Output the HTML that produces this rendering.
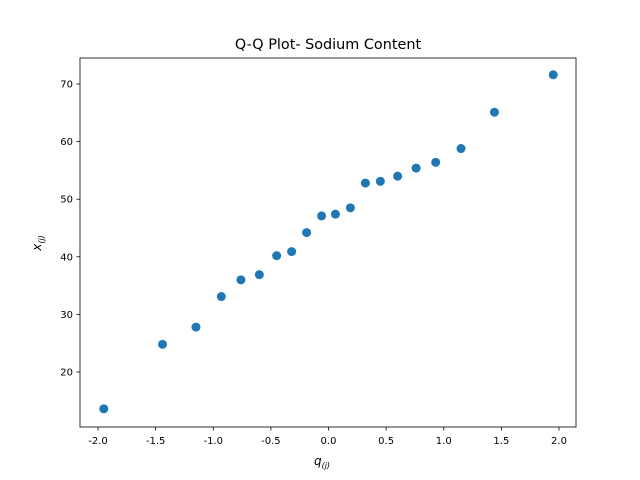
<!DOCTYPE html>
<html><head><meta charset="utf-8"><style>body{margin:0;background:#fff}svg{display:block;font-family:"DejaVu Sans","Liberation Sans",sans-serif}</style></head>
<body>
<svg id="chart" width="640" height="480">
<rect x="0" y="0" width="640" height="480" fill="#fff"/>
<g id="plot"></g>
</svg>
<script>
const qValues=[-1.95,-1.44,-1.15,-0.93,-0.76,-0.6,-0.45,-0.32,-0.19,-0.06,0.06,0.19,0.32,0.45,0.6,0.76,0.93,1.15,1.44,1.95];
const xValues=[13.6,24.8,27.8,33.1,36.0,36.9,40.2,40.9,44.2,47.1,47.4,48.5,52.8,53.1,54.0,55.4,56.4,58.8,65.1,71.6];
const xTicks=[-2.0,-1.5,-1.0,-0.5,0.0,0.5,1.0,1.5,2.0];
const yTicks=[20,30,40,50,60,70];
const NS="http://www.w3.org/2000/svg";
const g=document.getElementById('plot');
const L=80,R=576,T=58,B=427;
function sx(v){return 328.5+v*115.25;}
function sy(v){return 372-(v-20)*5.76;}
function mk(t,a,txt){const e=document.createElementNS(NS,t);for(const k in a)e.setAttribute(k,a[k]);if(txt!==undefined)e.textContent=txt;g.appendChild(e);return e;}
qValues.forEach((q,i)=>{const c=mk('circle',{cx:sx(q),cy:sy(xValues[i]),r:4.5,fill:'#1f77b4'});

});
const fr=mk('rect',{x:L,y:T,width:R-L,height:B-T,fill:'none',stroke:'#000','stroke-width':0.8});


xTicks.forEach(t=>{const x=sx(t);mk('line',{x1:x,x2:x,y1:B,y2:B+3.5,stroke:'#000','stroke-width':0.8});
const tx=mk('text',{x:x,y:B+17,'text-anchor':'middle','font-size':10},t.toFixed(1));

});
yTicks.forEach(t=>{const y=sy(t);mk('line',{x1:L-3.5,x2:L,y1:y,y2:y,stroke:'#000','stroke-width':0.8});
const tx=mk('text',{x:L-7,y:y+3.5,'text-anchor':'end','font-size':10},String(t));

});
const ti=mk('text',{x:328,y:49,'text-anchor':'middle','font-size':14.4},'Q-Q Plot- Sodium Content');


const xl=mk('text',{x:322,y:465,'text-anchor':'middle','font-size':12,'font-style':'italic'});
xl.innerHTML='q<tspan font-size="8" dy="3">(j)</tspan>';


const yl=mk('text',{x:0,y:0,'text-anchor':'middle','font-size':12,'font-style':'italic',transform:'translate(41,243) rotate(-90)'});
yl.innerHTML='x<tspan font-size="8" dy="3">(j)</tspan>';


</script>
</body></html>
